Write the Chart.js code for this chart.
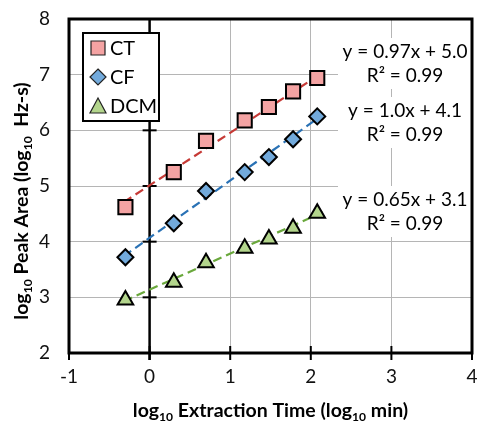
<!DOCTYPE html>
<html>
<head>
<meta charset="utf-8">
<script src="https://cdn.jsdelivr.net/npm/chart.js@4.4.1/dist/chart.umd.min.js"></script>
<style>
  html, body { margin: 0; padding: 0; background: #fff; }
  #wrap { width: 478px; height: 425px; }
</style>
</head>
<body>
<div id="wrap"><canvas id="myChart" width="478" height="425"></canvas></div>
<script>
// extraction time (log10 min) and peak areas (log10 Hz-s)
const logTime  = [-0.3, 0.3, 0.7, 1.18, 1.48, 1.78, 2.08];
const ctArea   = [4.62, 5.25, 5.81, 6.18, 6.42, 6.70, 6.94];
const cfArea   = [3.72, 4.33, 4.91, 5.25, 5.52, 5.84, 6.25];
const dcmArea  = [2.95, 3.27, 3.62, 3.88, 4.05, 4.24, 4.51];

// trend line end points
const trendX   = [-0.32, 2.15];
const ctTrend  = [4.71, 7.04];
const cfTrend  = [3.74, 6.28];
const dcmTrend = [2.93, 4.53];

const seriesNames = ['CT', 'CF', 'DCM'];
const equations = [
  ['y = 0.97x + 5.0', 'R² = 0.99'],
  ['y = 1.0x + 4.1', 'R² = 0.99'],
  ['y = 0.65x + 3.1', 'R² = 0.99']
];
const xTicks = [-1, 0, 1, 2, 3, 4];
const yTicks = [2, 3, 4, 5, 6, 7, 8];

const FONT = 'Lato, "Open Sans", sans-serif';
const fills = ['#f4a3a3', '#72aadc', '#b3d58c'];
const lines = ['#c63a36', '#2a72b5', '#6aa83c'];
const shapes = ['rect', 'rectRot', 'triangle'];
const radii = [10, 8, 9];

function pts(xs, ys) { return xs.map((x, i) => ({ x: x, y: ys[i] })); }

const pointSets = [ctArea, cfArea, dcmArea];
const trendSets = [ctTrend, cfTrend, dcmTrend];
const datasets = [];
trendSets.forEach((t, i) => {
  datasets.push({
    label: seriesNames[i] + ' trend',
    data: pts(trendX, t),
    showLine: true,
    borderColor: lines[i],
    borderWidth: 2.2,
    borderDash: [9, 5],
    pointRadius: 0,
    order: 2
  });
});
pointSets.forEach((s, i) => {
  datasets.push({
    label: seriesNames[i],
    data: pts(logTime, s),
    pointStyle: shapes[i],
    pointRadius: radii[i],
    pointBackgroundColor: fills[i],
    pointBorderColor: '#000',
    pointBorderWidth: 2,
    showLine: false,
    order: 1
  });
});

// draws text with "10" subscripts: parts = [[text, isSub], ...]
function drawRich(ctx, parts, size, weight) {
  let w = 0;
  parts.forEach(p => {
    ctx.font = weight + ' ' + (p[1] ? size * 0.62 : size) + 'px ' + FONT;
    w += ctx.measureText(p[0]).width;
  });
  let x = -w / 2;
  ctx.textAlign = 'left';
  ctx.textBaseline = 'alphabetic';
  parts.forEach(p => {
    ctx.font = weight + ' ' + (p[1] ? size * 0.62 : size) + 'px ' + FONT;
    ctx.fillText(p[0], x, p[1] ? size * 0.18 : 0);
    x += ctx.measureText(p[0]).width;
  });
}

const decor = {
  id: 'decor',
  beforeDatasetsDraw(chart) {
    const ctx = chart.ctx, a = chart.chartArea;
    const xs = chart.scales.x, ys = chart.scales.y;
    ctx.save();
    // equation labels with white boxes
    const boxTops = [38, 97, 186];
    equations.forEach((eq, i) => {
      const cx = 405;
      const top = boxTops[i];
      ctx.fillStyle = '#fff';
      ctx.fillRect(cx - 67, top, 134, 51);
      ctx.fillStyle = '#000';
      ctx.font = '19px ' + FONT;
      ctx.textAlign = 'center';
      ctx.textBaseline = 'middle';
      ctx.fillText(eq[0], cx, top + 14);
      ctx.fillText(eq[1], cx, top + 38);
    });
    // frame
    ctx.strokeStyle = '#000';
    ctx.lineWidth = 3;
    ctx.strokeRect(a.left, a.top, a.right - a.left, a.bottom - a.top);
    // y axis through x = 0 with cross ticks
    const x0 = xs.getPixelForValue(0);
    ctx.lineWidth = 2.5;
    ctx.beginPath();
    ctx.moveTo(x0, a.top);
    ctx.lineTo(x0, a.bottom + 7);
    ctx.stroke();
    ctx.lineWidth = 2;
    yTicks.forEach(v => {
      const y = ys.getPixelForValue(v);
      ctx.beginPath();
      ctx.moveTo(x0 - 7, y);
      ctx.lineTo(x0 + 7, y);
      ctx.stroke();
    });
    xTicks.forEach(v => {
      const x = xs.getPixelForValue(v);
      ctx.beginPath();
      ctx.moveTo(x, a.bottom - 7);
      ctx.lineTo(x, a.bottom + 7);
      ctx.stroke();
    });
    ctx.restore();
  },
  afterDatasetsDraw(chart) {
    const ctx = chart.ctx, a = chart.chartArea;
    ctx.save();
    // legend box
    const lx = a.left + 14, ly = a.top + 14;
    ctx.fillStyle = '#fff';
    ctx.fillRect(lx, ly, 76, 88);
    ctx.strokeStyle = '#000';
    ctx.lineWidth = 2;
    ctx.strokeRect(lx, ly, 76, 88);
    seriesNames.forEach((name, i) => {
      const cy = ly + 15 + i * 29;
      ctx.fillStyle = fills[i];
      ctx.strokeStyle = '#222';
      ctx.lineWidth = 1.2;
      ctx.beginPath();
      if (i === 0) ctx.rect(lx + 8, cy - 7, 14, 14);
      else if (i === 1) { ctx.moveTo(lx + 15, cy - 8); ctx.lineTo(lx + 23, cy); ctx.lineTo(lx + 15, cy + 8); ctx.lineTo(lx + 7, cy); ctx.closePath(); }
      else { ctx.moveTo(lx + 15, cy - 8); ctx.lineTo(lx + 23, cy + 7); ctx.lineTo(lx + 7, cy + 7); ctx.closePath(); }
      ctx.fill();
      ctx.stroke();
      ctx.fillStyle = '#000';
      ctx.font = '20px ' + FONT;
      ctx.textAlign = 'left';
      ctx.textBaseline = 'middle';
      ctx.fillText(name, lx + 27, cy + 1);
    });
    // axis titles
    ctx.fillStyle = '#000';
    ctx.save();
    ctx.translate((a.left + a.right) / 2, 417);
    drawRich(ctx, [['log', 0], ['10', 1], [' Extraction Time (log', 0], ['10', 1], [' min)', 0]], 19.5, 'bold');
    ctx.restore();
    ctx.save();
    ctx.translate(28, 201);
    ctx.rotate(-Math.PI / 2);
    drawRich(ctx, [['log', 0], ['10', 1], [' Peak Area (log', 0], ['10', 1], ['  Hz-s)', 0]], 19.5, 'bold');
    ctx.restore();
    ctx.restore();
  }
};

const ctx = document.getElementById('myChart').getContext('2d');
new Chart(ctx, {
  type: 'scatter',
  data: { datasets: datasets },
  options: {
    responsive: false,
    animation: false,
    layout: { autoPadding: false, padding: { top: 19, right: 6, left: 0, bottom: 0 } },
    plugins: { legend: { display: false }, tooltip: { enabled: false } },
    scales: {
      x: {
        type: 'linear', min: -1, max: 4,
        afterFit(s) { s.height = 72; s.paddingLeft = 0; s.paddingRight = 0; },
        afterBuildTicks(s) { s.ticks = xTicks.map(v => ({ value: v })); },
        grid: { color: '#b5b5b5', lineWidth: 1, drawTicks: false },
        border: { display: false },
        ticks: { font: { family: FONT, size: 19 }, color: '#111', padding: 12 }
      },
      y: {
        type: 'linear', min: 2, max: 8,
        afterFit(s) { s.width = 69; s.paddingTop = 0; s.paddingBottom = 0; },
        afterBuildTicks(s) { s.ticks = yTicks.map(v => ({ value: v })); },
        grid: { color: '#b5b5b5', lineWidth: 1, drawTicks: false },
        border: { display: false },
        ticks: { font: { family: FONT, size: 19 }, color: '#111', padding: 19 }
      }
    }
  },
  plugins: [decor]
});
</script>
</body>
</html>
